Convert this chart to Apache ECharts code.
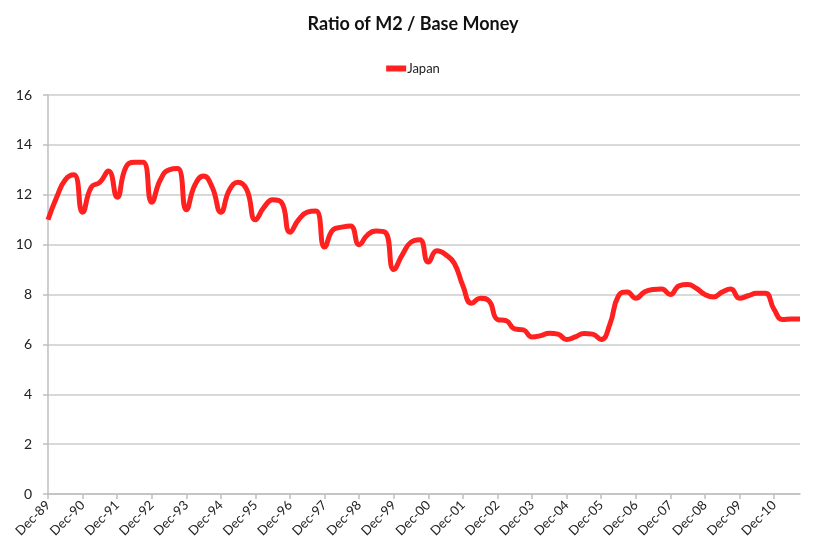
<!DOCTYPE html>
<html lang="en">

<head>
    <meta charset="UTF-8">
    <title>Ratio of M2 / Base Money</title>
</head>

<body style="margin:0;background:#fff;">
    <div id="main" style="width: 826px;height: 560px;"></div>
    <script src="https://cdn.jsdelivr.net/npm/echarts@6/dist/echarts.min.js"></script>
    <script>
        // quarterly, Dec-89 .. Sep-11
        var months = ['Dec', 'Mar', 'Jun', 'Sep'];
        var japan = [
            11.0, 11.9, 12.6, 12.8, 11.3, 12.3, 12.5, 12.95,
            11.9, 13.1, 13.3, 13.3, 11.7, 12.6, 13.0, 13.05,
            11.4, 12.4, 12.75, 12.3, 11.3, 12.2, 12.5, 12.2,
            11.0, 11.5, 11.8, 11.7, 10.5, 11.0, 11.3, 11.35,
            9.9, 10.6, 10.7, 10.75, 10.0, 10.4, 10.55, 10.5,
            9.0, 9.6, 10.1, 10.2, 9.3, 9.75, 9.6, 9.25,
            8.35, 7.65, 7.85, 7.75, 7.0, 6.95, 6.62, 6.58,
            6.3, 6.35, 6.45, 6.41, 6.2, 6.3, 6.44, 6.41,
            6.2, 6.8, 7.95, 8.1, 7.85, 8.1, 8.2, 8.22,
            8.0, 8.35, 8.4, 8.25, 8.0, 7.9, 8.1, 8.22,
            7.85, 7.95, 8.05, 8.05, 7.4, 7.0, 7.02, 7.02
        ];

        var categories = [];
        for (var i = 0; i < japan.length; i++) {
            var yr = 89 + Math.ceil(i / 4);
            categories.push(months[i % 4] + '-' + String(yr % 100).padStart(2, '0'));
        }

        var chart = echarts.init(document.getElementById('main'));
        chart.setOption({
            animation: false,
            textStyle: { fontFamily: 'Lato' },
            title: {
                text: 'Ratio of M2 / Base Money',
                left: 'center',
                top: 10,
                textStyle: { fontSize: 18, fontWeight: 'bold', color: '#111', fontFamily: 'Lato' }
            },
            legend: {
                top: 57,
                left: 'center',
                itemWidth: 20,
                itemHeight: 6,
                itemGap: 2,
                icon: 'rect',
                textStyle: { fontSize: 13, color: '#222', padding: [0, 0, 0, -4] },
                data: ['Japan']
            },
            grid: {
                left: 48,
                right: 26,
                top: 95,
                bottom: 66
            },
            xAxis: {
                type: 'category',
                data: categories,
                boundaryGap: false,
                axisLine: { lineStyle: { color: '#bfbfbf', width: 1.5 } },
                axisTick: { interval: 3, length: 5, lineStyle: { color: '#bfbfbf', width: 1.5 } },
                axisLabel: {
                    interval: 3,
                    rotate: 45,
                    fontSize: 13,
                    color: '#222',
                    margin: 9
                }
            },
            yAxis: {
                type: 'value',
                min: 0,
                max: 16,
                interval: 2,
                axisLine: { show: true, lineStyle: { color: '#bfbfbf', width: 1.5 } },
                axisTick: { show: true, length: 5, lineStyle: { color: '#bfbfbf', width: 1.5 } },
                splitLine: { lineStyle: { color: '#cccccc', width: 1.5 } },
                axisLabel: { fontSize: 14, color: '#222', margin: 16 }
            },
            series: [
                {
                    name: 'Japan',
                    type: 'line',
                    data: japan,
                    smooth: 0.5,
                    showSymbol: false,
                    color: '#ff2020',
                    lineStyle: { width: 5, color: '#ff2020' }
                }
            ]
        });
    </script>
</body>

</html>
